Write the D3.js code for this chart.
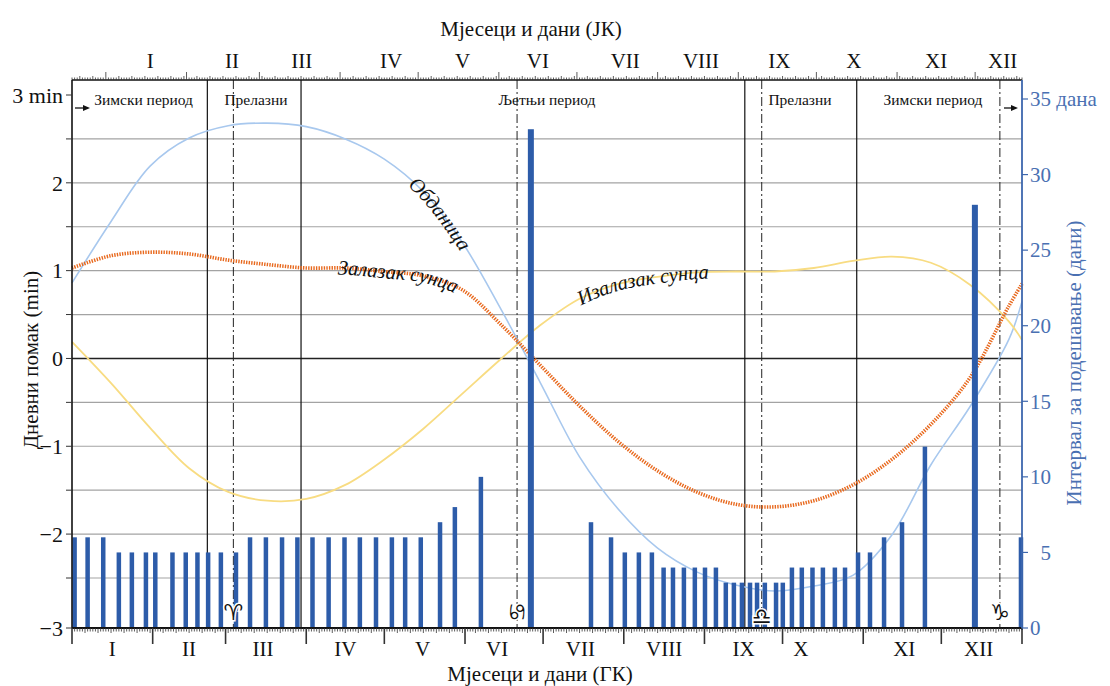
<!DOCTYPE html>
<html>
<head>
<meta charset="utf-8">
<script src="https://cdn.jsdelivr.net/npm/d3@7"></script>
<style>
  body { margin: 0; background: #fff; }
  text { font-family: "Liberation Serif", "DejaVu Serif", serif; }
</style>
</head>
<body>
<div id="container"></div>
<script>
// ---- data (day of year, Gregorian) ----
const months = ['I','II','III','IV','V','VI','VII','VIII','IX','X','XI','XII'];
const monthLengths = [31,28,31,30,31,30,31,31,30,31,30,31];
const julianLag = 13;

const curveDays = [0,15,30,45,60,75,90,105,120,135,150,165,180,195,210,225,240,255,270,285,300,315,330,345,360,365];
const daylight = [0.86,1.56,2.19,2.51,2.65,2.68,2.64,2.50,2.27,1.90,1.32,0.55,-0.28,-1.12,-1.72,-2.16,-2.43,-2.57,-2.63,-2.58,-2.47,-2.01,-1.21,-0.55,0.22,0.65];
const sunset   = [1.03,1.17,1.21,1.19,1.12,1.07,1.03,1.03,0.99,0.94,0.78,0.38,-0.08,-0.54,-0.95,-1.28,-1.52,-1.66,-1.69,-1.62,-1.44,-1.15,-0.75,-0.22,0.60,0.85];
const sunrise  = [0.19,-0.28,-0.79,-1.25,-1.52,-1.62,-1.60,-1.44,-1.15,-0.80,-0.40,0.00,0.38,0.68,0.85,0.93,0.98,0.99,0.99,1.03,1.11,1.16,1.09,0.84,0.42,0.21];

const barDays = [1,6,12,18,23,28.4,32,38.6,43.7,48.2,52.3,57.2,63,68.4,74.5,80.7,86.6,92.4,98.6,104.7,110.6,116.8,122.9,128,134,141.4,147.1,157.1,176.3,
  199.4,207.1,212.4,217.8,222.8,227.3,230.9,235.1,239.3,243.2,247.4,251.2,254.3,257.4,260.5,263.2,266.2,270.5,273.1,276.6,280.4,284.5,288.5,293.1,297,
  302,306.6,312,318.9,327.7,346.9,364.6];
const barIntervals = [6,6,6,5,5,5,5,5,5,5,5,5,5,6,6,6,6,6,6,6,6,6,6,6,6,7,8,10,33,
  7,6,5,5,5,4,4,4,4,4,4,3,3,3,3,3,3,3,3,4,4,4,4,4,4,
  5,5,6,7,12,28,6];

const periodNames = ['Зимски период','Прелазни','Љетњи период','Прелазни','Зимски период'];
const periodLabelDays = [27.5, 70.7, 182.5, 279.7, 330.8];
const periodBounds = [52, 88, 258.5, 301.5];
const signDays = [62, 171, 265, 356.5];
const signGlyphs = ['\u2648\uFE0E','\u264B\uFE0E','\u264E\uFE0E','\u2651\uFE0E'];

const minTicks = [-3,-2,-1,0,1,2,3];
const dayTicks = [0,5,10,15,20,25,30,35];

// ---- layout ----
const width = 1110, height = 686;
const x0 = 72, x1 = 1022, yTop = 80, yBottom = 628;

const x = d3.scaleLinear().domain([0,365]).range([x0,x1]);
const y = d3.scaleLinear().domain([-3,-2.5,3]).range([628,578,95]);
const yDays = d3.scaleLinear().domain([0,35]).range([628,99]);

const svg = d3.select('#container').append('svg')
  .attr('width',width).attr('height',height);

// cumulative month starts
const monthStarts = d3.cumsum([0].concat(monthLengths)); // 13 values
const julStarts = Array.from(monthStarts).map(d => d + julianLag);

// gridlines
const grid = d3.range(-2.5, 2.51, 0.5);
svg.append('g').selectAll('line').data(grid).enter().append('line')
  .attr('x1',x0).attr('x2',x1)
  .attr('y1',d => y(d)).attr('y2',d => y(d))
  .attr('stroke',d => Math.abs(d) < 1e-6 ? '#222' : '#a3a3a3')
  .attr('stroke-width',d => Math.abs(d) < 1e-6 ? 1.4 : 1.2);

// period boundaries
svg.append('g').selectAll('line').data(periodBounds).enter().append('line')
  .attr('x1',d => x(d)).attr('x2',d => x(d))
  .attr('y1',yTop).attr('y2',yBottom)
  .attr('stroke','#111').attr('stroke-width',1.2);

// solstice / equinox lines
svg.append('g').selectAll('line').data(signDays).enter().append('line')
  .attr('x1',d => x(d)).attr('x2',d => x(d))
  .attr('y1',yTop).attr('y2',yBottom)
  .attr('stroke','#222').attr('stroke-width',1)
  .attr('stroke-dasharray','9,3,2,3');

// curves
const line = d3.line().curve(d3.curveCatmullRom.alpha(0.5))
  .x(d => x(d[0])).y(d => y(d[1]));
const pts = vals => curveDays.map((d,i) => [d, vals[i]]);

svg.append('path').attr('id','p-day').attr('d',line(pts(daylight)))
  .attr('fill','none').attr('stroke','#a8c8ee').attr('stroke-width',1.6);
svg.append('path').attr('id','p-rise').attr('d',line(pts(sunrise)))
  .attr('fill','none').attr('stroke','#f8dc82').attr('stroke-width',1.8);
svg.append('path').attr('id','p-set').attr('d',line(pts(sunset)))
  .attr('fill','none').attr('stroke','#e8691e').attr('stroke-width',3.6)
  .attr('stroke-dasharray','1.4,1.2');

// bars
svg.append('g').selectAll('rect').data(barDays).enter().append('rect')
  .attr('x',(d,i) => x(d) - (barIntervals[i] >= 20 ? 3 : 2.25))
  .attr('width',(d,i) => barIntervals[i] >= 20 ? 6 : 4.5)
  .attr('y',(d,i) => yDays(barIntervals[i]))
  .attr('height',(d,i) => yBottom - yDays(barIntervals[i]))
  .attr('fill','#2d5ca9');

// labels along curves
function offsetAtX(node, tx) {
  let lo = 0, hi = node.getTotalLength();
  for (let k = 0; k < 40; k++) {
    const mid = (lo + hi) / 2;
    if (node.getPointAtLength(mid).x < tx) lo = mid; else hi = mid;
  }
  return lo;
}
function curveLabel(id, txt, startX) {
  const node = document.getElementById(id);
  svg.append('text')
    .attr('font-size',20.5).attr('font-style','italic').attr('fill','#111')
    .attr('dy','0.33em')
    .append('textPath').attr('href','#' + id)
    .attr('startOffset', offsetAtX(node, startX))
    .text(txt);
}
curveLabel('p-day','Обданица',412);
curveLabel('p-set','Залазак сунца',338);
curveLabel('p-rise','Изалазак сунца',578);

// signs
svg.append('g').selectAll('text').data(signDays).enter().append('text')
  .attr('transform',(d,i) => `translate(${x(d)},${i === 2 ? 616 : 612})` + (i === 1 ? ' rotate(-90)' : ''))
  .attr('text-anchor','middle').attr('dy','0.35em')
  .style('font-family','"DejaVu Sans", sans-serif')
  .attr('font-size',22).attr('fill','#111')
  .attr('stroke','#fff').attr('stroke-width',3).attr('paint-order','stroke')
  .text((d,i) => signGlyphs[i]);

// frame
svg.append('line').attr('x1',x0).attr('x2',x1).attr('y1',yTop).attr('y2',yTop)
  .attr('stroke','#111').attr('stroke-width',1.6);
svg.append('line').attr('x1',x0).attr('x2',x0).attr('y1',yTop).attr('y2',yBottom)
  .attr('stroke','#111').attr('stroke-width',1.6);
svg.append('line').attr('x1',x0).attr('x2',x1).attr('y1',yBottom).attr('y2',yBottom)
  .attr('stroke','#111').attr('stroke-width',1.8);
svg.append('line').attr('x1',x1).attr('x2',x1).attr('y1',yTop).attr('y2',yBottom + 2)
  .attr('stroke','#3d67ad').attr('stroke-width',1.8);

// top axis (Julian) ticks
const days = d3.range(0,366);
const julSet = new Set(julStarts);
svg.append('g').selectAll('line').data(days).enter().append('line')
  .attr('x1',d => x(d)).attr('x2',d => x(d))
  .attr('y1',yTop)
  .attr('y2',d => yTop - (julSet.has(d) ? 8 : ((d - julianLag) % 5 === 0 ? 4 : 2.5)))
  .attr('stroke','#333').attr('stroke-width',0.8);

// bottom axis (Gregorian) ticks
const gregSet = new Set(Array.from(monthStarts));
svg.append('g').selectAll('line').data(days).enter().append('line')
  .attr('x1',d => x(d)).attr('x2',d => x(d))
  .attr('y1',yBottom)
  .attr('y2',d => yBottom + (gregSet.has(d) ? 16 : (d % 5 === 0 ? 5 : 3.5)))
  .attr('stroke','#333').attr('stroke-width',d => gregSet.has(d) ? 1.6 : 0.8);

// month labels
const topNudge = [4,9,2,12,4,0,8,3,2,-3,0,4];
svg.append('g').selectAll('text').data(months).enter().append('text')
  .attr('x',(d,i) => {
    const a = Math.max(0, julStarts[i]), b = Math.min(365, julStarts[i + 1]);
    return x((a + b) / 2) + topNudge[i];
  })
  .attr('y',68).attr('text-anchor','middle').attr('font-size',21).attr('fill','#111')
  .text(d => d);
const bottomNudge = [0,0,-3,0,-2,-7,-3,0,0,-22,2,-3];
svg.append('g').selectAll('text').data(months).enter().append('text')
  .attr('x',(d,i) => x((monthStarts[i] + monthStarts[i + 1]) / 2) + bottomNudge[i])
  .attr('y',656).attr('text-anchor','middle').attr('font-size',21).attr('fill','#111')
  .text(d => d);

// left axis
svg.append('g').selectAll('line').data(d3.range(-3,3.01,0.5)).enter().append('line')
  .attr('x1',x0 - 6).attr('x2',x0).attr('y1',d => y(d)).attr('y2',d => y(d))
  .attr('stroke','#333').attr('stroke-width',1);
svg.append('g').selectAll('text').data(minTicks).enter().append('text')
  .attr('x',x0 - 9).attr('y',d => y(d)).attr('dy','0.35em')
  .attr('text-anchor','end').attr('font-size',22).attr('fill','#111')
  .text(d => d === 3 ? '3 min' : (d < 0 ? '\u2212' + Math.abs(d) : String(d)));

// right axis
svg.append('g').selectAll('line').data(dayTicks).enter().append('line')
  .attr('x1',x1).attr('x2',x1 + 6).attr('y1',d => yDays(d)).attr('y2',d => yDays(d))
  .attr('stroke','#3d67ad').attr('stroke-width',1.2);
svg.append('g').selectAll('text').data(dayTicks).enter().append('text')
  .attr('x',x1 + 8).attr('y',d => yDays(d)).attr('dy','0.35em')
  .attr('font-size',21).attr('fill','#4a70b2')
  .text(d => d === 35 ? '35 дана' : (d === 5 ? '\u2007' + d : d));

// period labels and arrows
svg.append('g').selectAll('text').data(periodNames).enter().append('text')
  .attr('x',(d,i) => x(periodLabelDays[i])).attr('y',105)
  .attr('text-anchor','middle').attr('font-size',15.5).attr('fill','#111')
  .text(d => d);
const arrow = (xa, xb, ya) => {
  svg.append('line').attr('x1',xa).attr('x2',xb - 5).attr('y1',ya).attr('y2',ya)
    .attr('stroke','#111').attr('stroke-width',1.3);
  svg.append('path').attr('d',`M${xb},${ya} L${xb - 7},${ya - 3} L${xb - 7},${ya + 3} Z`)
    .attr('fill','#111');
};
arrow(75, 90, 108);
arrow(1004, 1018, 108);

// axis titles
svg.append('text').attr('x',531).attr('y',36).attr('text-anchor','middle')
  .attr('font-size',21).attr('fill','#111').text('Мјесеци и дани (ЈК)');
svg.append('text').attr('x',540).attr('y',681).attr('text-anchor','middle')
  .attr('font-size',21).attr('fill','#111').text('Мјесеци и дани (ГК)');
svg.append('text').attr('transform','translate(38,360) rotate(-90)')
  .attr('text-anchor','middle').attr('font-size',21).attr('fill','#111')
  .text('Дневни помак (min)');
svg.append('text').attr('transform','translate(1081,363) rotate(-90)')
  .attr('text-anchor','middle').attr('font-size',21).attr('fill','#4a70b2')
  .text('Интервал за подешавање (дани)');
</script>
</body>
</html>
